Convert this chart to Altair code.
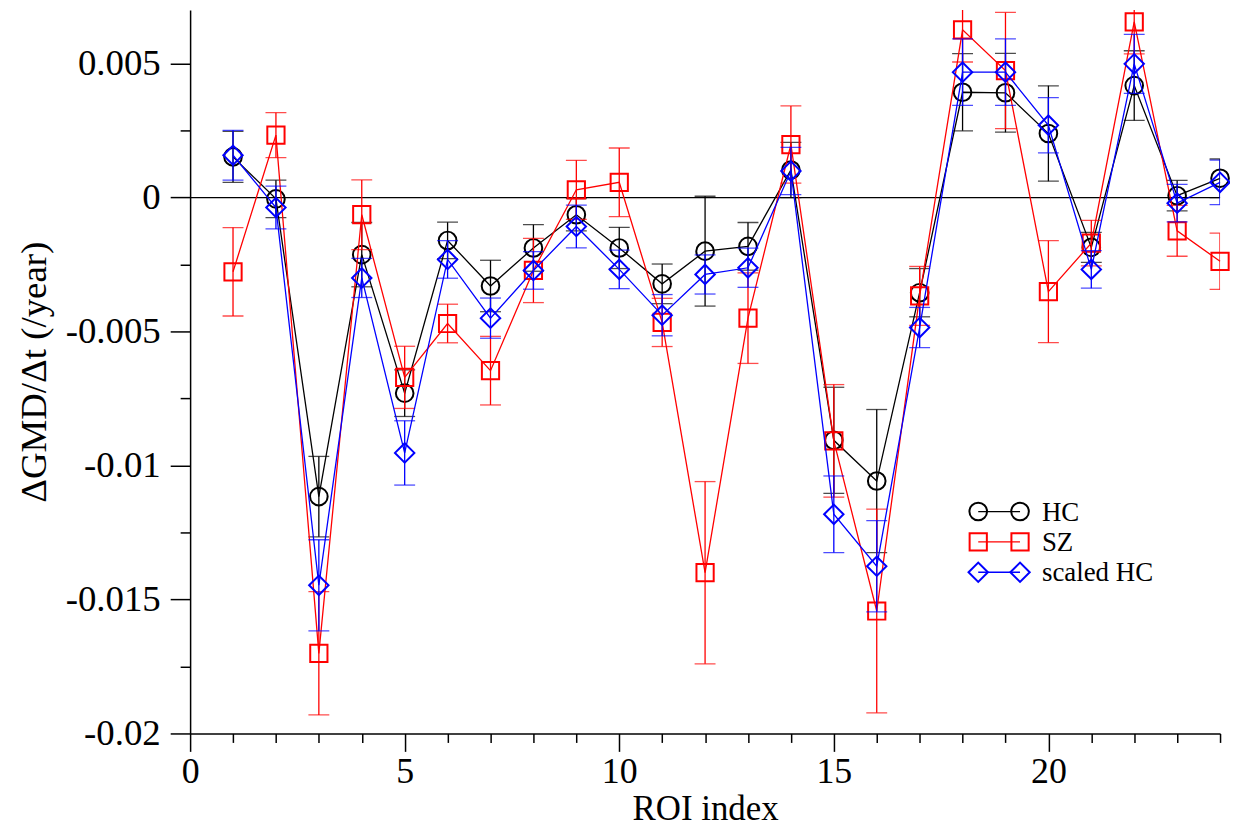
import altair as alt
import pandas as pd

# ---- data ----
roi = list(range(1, 25))
series_names = ["HC", "SZ", "scaled HC"]

hc = [0.00152, -0.00005, -0.01116, -0.00213, -0.0073, -0.0016, -0.0033, -0.00188,
      -0.00064, -0.00188, -0.00322, -0.002, -0.00182, 0.00103, -0.00906, -0.01058,
      -0.00355, 0.00393, 0.00391, 0.00239, -0.00186, 0.00418, 0.00007, 0.00072]
hc_err = [0.00095, 0.0007, 0.0015, 0.0012, 0.00087, 0.00068, 0.00096, 0.00087,
          0.0006, 0.00077, 0.00074, 0.00205, 0.00089, 0.00103, 0.00198, 0.00267,
          0.0009, 0.00144, 0.00147, 0.00178, 0.00056, 0.0013, 0.00057, 0.00072]

sz = [-0.00277, 0.00233, -0.01701, -0.00064, -0.00671, -0.0047, -0.00646, -0.00272,
      0.00029, 0.00057, -0.00466, -0.014, -0.0045, 0.00198, -0.00908, -0.01543,
      -0.00367, 0.00626, 0.00474, -0.00351, -0.0017, 0.00656, -0.00124, -0.00238]
sz_err = [0.00165, 0.00084, 0.0023, 0.0013, 0.00116, 0.00072, 0.00128, 0.0012,
          0.0011, 0.00128, 0.0009, 0.0034, 0.00169, 0.00144, 0.0021, 0.0038,
          0.0011, 0.0012, 0.00217, 0.0019, 0.00085, 0.0012, 0.00095, 0.00105]

shc = [0.00158, -0.00037, -0.01447, -0.003, -0.00953, -0.00231, -0.0045, -0.00272,
       -0.00108, -0.00268, -0.00439, -0.00287, -0.00262, 0.00099, -0.01182, -0.01376,
       -0.00485, 0.00468, 0.00468, 0.0027, -0.00268, 0.00499, -0.00021, 0.00057]
shc_err = [0.00093, 0.0008, 0.0017, 0.00073, 0.0012, 0.0007, 0.00075, 0.0007,
           0.0008, 0.00072, 0.00077, 0.00073, 0.00073, 0.00088, 0.00143, 0.0017,
           0.00075, 0.00124, 0.00124, 0.00103, 0.0007, 0.0011, 0.0007, 0.00083]

x_ticks = list(range(0, 25))
y_ticks = [-0.02, -0.0175, -0.015, -0.0125, -0.01, -0.0075, -0.005, -0.0025, 0, 0.0025, 0.005]

# ---- styles ----
colors = {"HC": "#000000", "SZ": "#ff0000", "scaled HC": "#0000ff"}
shapes = {"HC": "circle", "SZ": "square", "scaled HC": "diamond"}
sizes = {"HC": 314, "SZ": 300, "scaled HC": 380}
FONT = "Times New Roman"

values = {"HC": (hc, hc_err), "SZ": (sz, sz_err), "scaled HC": (shc, shc_err)}

xscale = alt.Scale(domain=[0, 24], nice=False, zero=False)
yscale = alt.Scale(domain=[-0.02, 0.007], nice=False, zero=False)

xaxis = alt.Axis(
    values=x_ticks,
    labelExpr="datum.value % 5 === 0 ? datum.label : ''",
    tickSize={"condition": {"test": "datum.value % 5 === 0", "value": 18}, "value": 9},
    labelFontSize=36, labelPadding=3, title="ROI index", titleFontSize=35,
    titlePadding=2, labelFont=FONT, titleFont=FONT,
)
yaxis = alt.Axis(
    values=y_ticks,
    labelExpr="abs(round(datum.value*400)) % 2 === 0 ? '' + datum.value : ''",
    tickSize={"condition": {"test": "abs(round(datum.value*400)) % 2 === 0", "value": 20}, "value": 10},
    labelFontSize=37, labelPadding=10, title="ΔGMD/Δt (/year)", titleFontSize=37,
    titlePadding=12, labelFont=FONT, titleFont=FONT,
)

def X(field):
    return alt.X(f"{field}:Q", scale=xscale, axis=xaxis)

def Y(field):
    return alt.Y(f"{field}:Q", scale=yscale, axis=yaxis)

layers = []
zero = alt.Chart(pd.DataFrame({"z": [0]})).mark_rule(color="black", strokeWidth=1.3).encode(y=Y("z"))
layers.append(zero)

for name in series_names:
    v, e = values[name]
    df = pd.DataFrame({
        "roi": roi, "val": v, "err": e,
        "lo": [a - b for a, b in zip(v, e)], "hi": [a + b for a, b in zip(v, e)],
    })
    c = colors[name]
    base = alt.Chart(df)
    layers.append(base.mark_rule(color=c, strokeWidth=1.3, clip=True).encode(x=X("roi"), y=Y("lo"), y2="hi:Q"))
    layers.append(base.mark_tick(color=c, orient="horizontal", size=21, thickness=1.3, clip=True).encode(x=X("roi"), y=Y("lo")))
    layers.append(base.mark_tick(color=c, orient="horizontal", size=21, thickness=1.3, clip=True).encode(x=X("roi"), y=Y("hi")))
    layers.append(base.mark_line(color=c, strokeWidth=1.3).encode(x=X("roi"), y=Y("val"), order="roi:Q"))
    layers.append(base.mark_point(color=c, shape=shapes[name], size=sizes[name], filled=False,
                                  strokeWidth=2, opacity=1).encode(x=X("roi"), y=Y("val")))

# ---- hand-drawn legend (pixel layout inside plot) ----
one = pd.DataFrame({"a": [0]})
leg_x1, leg_x2, leg_tx = 792, 834, 856
for i, name in enumerate(series_names):
    yy = 504 + 30.5 * i
    c = colors[name]
    b = alt.Chart(one)
    layers.append(b.mark_rule(color=c, strokeWidth=1.3).encode(x=alt.value(leg_x1), x2=alt.value(leg_x2), y=alt.value(yy)))
    for xx in (leg_x1, leg_x2):
        layers.append(b.mark_point(color=c, shape=shapes[name], size=sizes[name], filled=False,
                                   strokeWidth=2, opacity=1).encode(x=alt.value(xx), y=alt.value(yy)))
    layers.append(b.mark_text(align="left", baseline="middle", font=FONT, fontSize=27, color="black")
                  .encode(x=alt.value(leg_tx), y=alt.value(yy + 1), text=alt.value(name)))

chart = alt.layer(*layers).properties(
    width=1035, height=727,
    autosize=alt.AutoSizeParams(type="none"),
    padding={"left": 183, "top": 0, "right": 10, "bottom": 95},
).configure(background="white", font=FONT).configure_view(strokeWidth=0).configure_axis(
    tickColor="black", tickWidth=1.5, domainColor="black", domainWidth=1.5,
    labelFont=FONT, labelColor="black", titleFont=FONT, titleColor="black",
    titleFontWeight="normal", grid=False, labelOverlap=False, labelFlush=False,
)

chart.save("out.html", embed_options={"renderer": "svg", "actions": False})
